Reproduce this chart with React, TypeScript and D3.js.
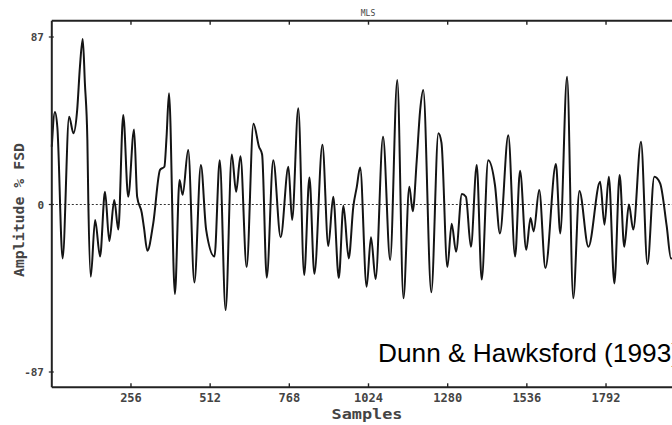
import React from "react";
import * as d3 from "d3";

const sampleIdx = [
  0, 10, 18, 35, 56, 70, 82, 91, 100, 107, 115, 118, 126, 140, 156, 172, 186, 202, 215, 231,
  247, 266, 276, 291, 298, 309, 328, 350, 364, 371, 379, 398, 413, 423, 441, 461, 482, 499, 526, 543,
  562, 582, 596, 610, 630, 652, 670, 680, 695, 716, 740, 765, 777, 797, 816, 833, 849, 875, 894, 910,
  928, 943, 960, 975, 986, 997, 1018, 1032, 1047, 1071, 1094, 1117, 1137, 1156, 1167, 1180, 1191, 1201, 1227, 1250,
  1260, 1279, 1293, 1307, 1326, 1339, 1355, 1374, 1390, 1411, 1433, 1449, 1476, 1498, 1514, 1534, 1548, 1558, 1576, 1596,
  1630, 1644, 1666, 1686, 1706, 1735, 1773, 1787, 1801, 1819, 1836, 1851, 1866, 1880, 1905, 1926, 1948, 1967, 1988, 2002,
  2031,
];
const amplitude = [
  30, 48, 40, -28, 45.6, 37, 49, 71.6, 86, 63, 33.5, 2.3, -37.5, -8, -27, 6.6, -19, 2.3, -13, 46.5,
  4, 39, 4, -4.4, -12, -24, -9.8, 18, 19.6, 35, 57.8, -46.5, 12.7, 5, 28.3, -40.5, 20.5, -13, -27, 23,
  -54.8, 26, 6.6, 25, -32.5, 42, 30, 26, -38, 23, -17, 19.6, -8, 50, -36.6, 14, -36, 31, -21.5, 4,
  -38.2, -0.7, -28, -1, 9, 19.2, -42.7, -17, -38.7, 35.2, -28.8, 64.7, -48.7, 9.2, -3.5, 23, 49, 59.5, -45.6, 37,
  32, -32.5, -10, -24.5, 5.5, 4, -22, 20.5, -39, 23, 10, -15, 36, -27, 17.5, -23.5, -7, -14, 7.5, -33,
  21, -15, 66.4, -48.7, 7, -22, 11.8, -10.5, 14.4, -41, 15.3, -22, 0, -13, 32.6, -31, 14.4, 11, -11, -28,
  -25,
];
const xTicks = [256, 512, 768, 1024, 1280, 1536, 1792];
const yTicks = [87, 0, -87];
const yTickLabels = ["87", "0", "-87"];

const W = 672;
const H = 425;
const frameLeft = 51.8;
const frameTop = 20.7;
const frameBottom = 387.3;

export default function App() {
  const x = d3.scaleLinear().domain([0, 2048]).range([51.8, 685.2]);
  const y = d3.scaleLinear().domain([-87, 87]).range([372, 37]);
  const data = sampleIdx.map((s, i) => ({ s, v: amplitude[i] }));
  const line = d3
    .line<{ s: number; v: number }>()
    .x((d) => x(d.s))
    .y((d) => y(d.v))
    .curve(d3.curveMonotoneX);
  const mono = "'DejaVu Sans Mono', monospace";
  return (
    <svg
      width={W}
      height={H}
      style={{ position: "absolute", left: 0, top: 0, background: "#fff" }}
    >
      <rect x={0} y={0} width={W} height={H} fill="#fff" />
      <line
        x1={frameLeft}
        x2={W}
        y1={y(0)}
        y2={y(0)}
        stroke="#333"
        strokeWidth={1}
        strokeDasharray="2 2"
      />
      <path d={line(data) || ""} fill="none" stroke="#141414" strokeWidth={2} strokeLinejoin="round" />
      <line x1={frameLeft} x2={W} y1={frameTop} y2={frameTop} stroke="#222" strokeWidth={2} />
      <line x1={frameLeft} x2={W} y1={frameBottom} y2={frameBottom} stroke="#222" strokeWidth={2} />
      <line x1={frameLeft} x2={frameLeft} y1={frameTop} y2={frameBottom} stroke="#222" strokeWidth={2} />
      {xTicks.map((t) => (
        <g key={t}>
          <line x1={x(t)} x2={x(t)} y1={frameBottom} y2={frameBottom - 4} stroke="#222" strokeWidth={1.4} />
          <line x1={x(t)} x2={x(t)} y1={frameTop} y2={frameTop + 4} stroke="#222" strokeWidth={1.4} />
          <text
            x={x(t)}
            y={401.5}
            textAnchor="middle"
            fontFamily={mono}
            fontSize={12}
            fontWeight="bold"
            fill="#444"
          >
            {t}
          </text>
        </g>
      ))}
      {yTicks.map((t, i) => (
        <g key={t}>
          <line x1={frameLeft - 3} x2={frameLeft + 2} y1={y(t)} y2={y(t)} stroke="#222" strokeWidth={1.2} />
          <text
            x={44}
            y={y(t) + 4}
            textAnchor="end"
            fontFamily={mono}
            fontSize={11}
            fontWeight="bold"
            fill="#444"
          >
            {yTickLabels[i]}
          </text>
        </g>
      ))}
      <text x={368} y={16} textAnchor="middle" fontFamily={mono} fontSize={8} fill="#444">
        MLS
      </text>
      <text
        x={367}
        y={419}
        textAnchor="middle"
        fontFamily={mono}
        fontSize={14}
        fontWeight="bold"
        fill="#444"
        textLength={71}
        lengthAdjust="spacingAndGlyphs"
      >
        Samples
      </text>
      <text
        transform={`translate(24,210) rotate(-90)`}
        textAnchor="middle"
        fontFamily={mono}
        fontSize={14}
        fontWeight="bold"
        fill="#444"
        textLength={134}
        lengthAdjust="spacingAndGlyphs"
      >
        Amplitude % FSD
      </text>
      <text
        x={378}
        y={362}
        fontFamily="'Liberation Sans', Arial, sans-serif"
        fontSize={25}
        fill="#000"
        textLength={302}
        lengthAdjust="spacingAndGlyphs"
      >
        Dunn &amp; Hawksford (1993)
      </text>
    </svg>
  );
}
